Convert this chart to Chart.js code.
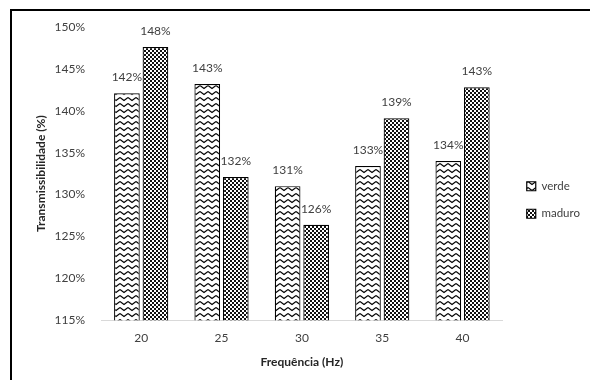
<!DOCTYPE html>
<html>
<head>
<meta charset="utf-8">
<script src="https://cdn.jsdelivr.net/npm/chart.js@4.4.0/dist/chart.umd.min.js"></script>
<style>
  html, body { margin: 0; padding: 0; background: #fff; overflow: hidden; }
  #wrap { position: relative; width: 590px; height: 380px; }
  #frame { position: absolute; left: 10px; top: 9px; width: 700px; height: 500px;
           border-top: 2px solid #000; border-left: 2px solid #000; }
  canvas { position: absolute; left: 0; top: 0; }
</style>
</head>
<body>
<div id="wrap">
  <div id="frame"></div>
  <canvas id="c" width="590" height="380"></canvas>
</div>
<script>
// Transmissibility by frequency, green vs ripe fruit
const frequencias = ['20', '25', '30', '35', '40'];
const verde  = [142.1, 143.2, 131.0, 133.4, 134.0];
const maduro = [147.6, 132.1, 126.4, 139.1, 142.8];
const serieNomes = ['verde', 'maduro'];

function zigzagPattern() {
  const t = document.createElement('canvas');
  t.width = 8; t.height = 6;
  const g = t.getContext('2d');
  g.fillStyle = '#fff'; g.fillRect(0, 0, 8, 6);
  g.strokeStyle = '#000'; g.lineWidth = 1.1;
  g.beginPath();
  g.moveTo(0, 1.5); g.lineTo(4, 4.5); g.lineTo(8, 1.5);
  g.stroke();
  return g.createPattern(t, 'repeat');
}
function checkerPattern() {
  const t = document.createElement('canvas');
  t.width = 4; t.height = 4;
  const g = t.getContext('2d');
  g.fillStyle = '#111'; g.fillRect(0, 0, 4, 4);
  g.fillStyle = '#fff';
  g.fillRect(0, 0, 2, 2);
  g.fillRect(2, 2, 2, 2);
  return g.createPattern(t, 'repeat');
}

const FONT = 'Lato, "Open Sans", sans-serif';

const valueLabels = {
  id: 'valueLabels',
  afterDatasetsDraw(chart) {
    const ctx = chart.ctx;
    ctx.save();
    ctx.font = '12px ' + FONT;
    ctx.fillStyle = '#404040';
    ctx.textAlign = 'center';
    ctx.textBaseline = 'bottom';
    chart.data.datasets.forEach((ds, i) => {
      chart.getDatasetMeta(i).data.forEach((bar, j) => {
        ctx.fillText(Math.round(ds.data[j]) + '%', bar.x, bar.y - 10);
      });
    });
    ctx.restore();
  }
};

new Chart(document.getElementById('c'), {
  type: 'bar',
  data: {
    labels: frequencias,
    datasets: [
      { label: serieNomes[0], data: verde, backgroundColor: zigzagPattern(),
        borderColor: '#000', borderWidth: 1.2, borderSkipped: false },
      { label: serieNomes[1], data: maduro, backgroundColor: checkerPattern(),
        borderColor: '#000', borderWidth: 1.2, borderSkipped: false }
    ]
  },
  options: {
    responsive: false,
    animation: false,
    devicePixelRatio: 1,
    layout: { padding: { top: 27, left: 34, right: 0, bottom: 7 } },
    datasets: { bar: { categoryPercentage: 0.71, barPercentage: 0.9 } },
    scales: {
      x: {
        grid: { display: false },
        border: { display: true, color: '#d9d9d9', width: 1 },
        ticks: { color: '#404040', font: { family: FONT, size: 12 }, padding: 3 },
        title: { display: true, text: 'Frequência (Hz)', color: '#262626',
                 font: { family: FONT, size: 12, weight: 'bold' }, padding: { top: 6 } }
      },
      y: {
        min: 115, max: 150,
        grid: { display: false },
        border: { display: false },
        ticks: { stepSize: 5, color: '#404040', font: { family: FONT, size: 12 }, padding: 8,
                 callback: v => v + '%' },
        title: { display: true, text: 'Transmissibilidade (%)', color: '#262626',
                 font: { family: FONT, size: 12, weight: 'bold' }, padding: 0 },
        afterFit(scale) { scale.width = 67; }
      },
      // empty right-hand strip separating the plot from the legend
      legendGap: {
        position: 'right',
        grid: { display: false },
        border: { display: false },
        ticks: { display: false },
        afterFit(scale) { scale.width = 8; }
      }
    },
    plugins: {
      legend: {
        position: 'right',
        labels: { boxWidth: 9, boxHeight: 9, padding: 16, color: '#404040',
                  font: { family: FONT, size: 11.5 } }
      },
      tooltip: { enabled: false }
    }
  },
  plugins: [valueLabels]
});
</script>
</body>
</html>
